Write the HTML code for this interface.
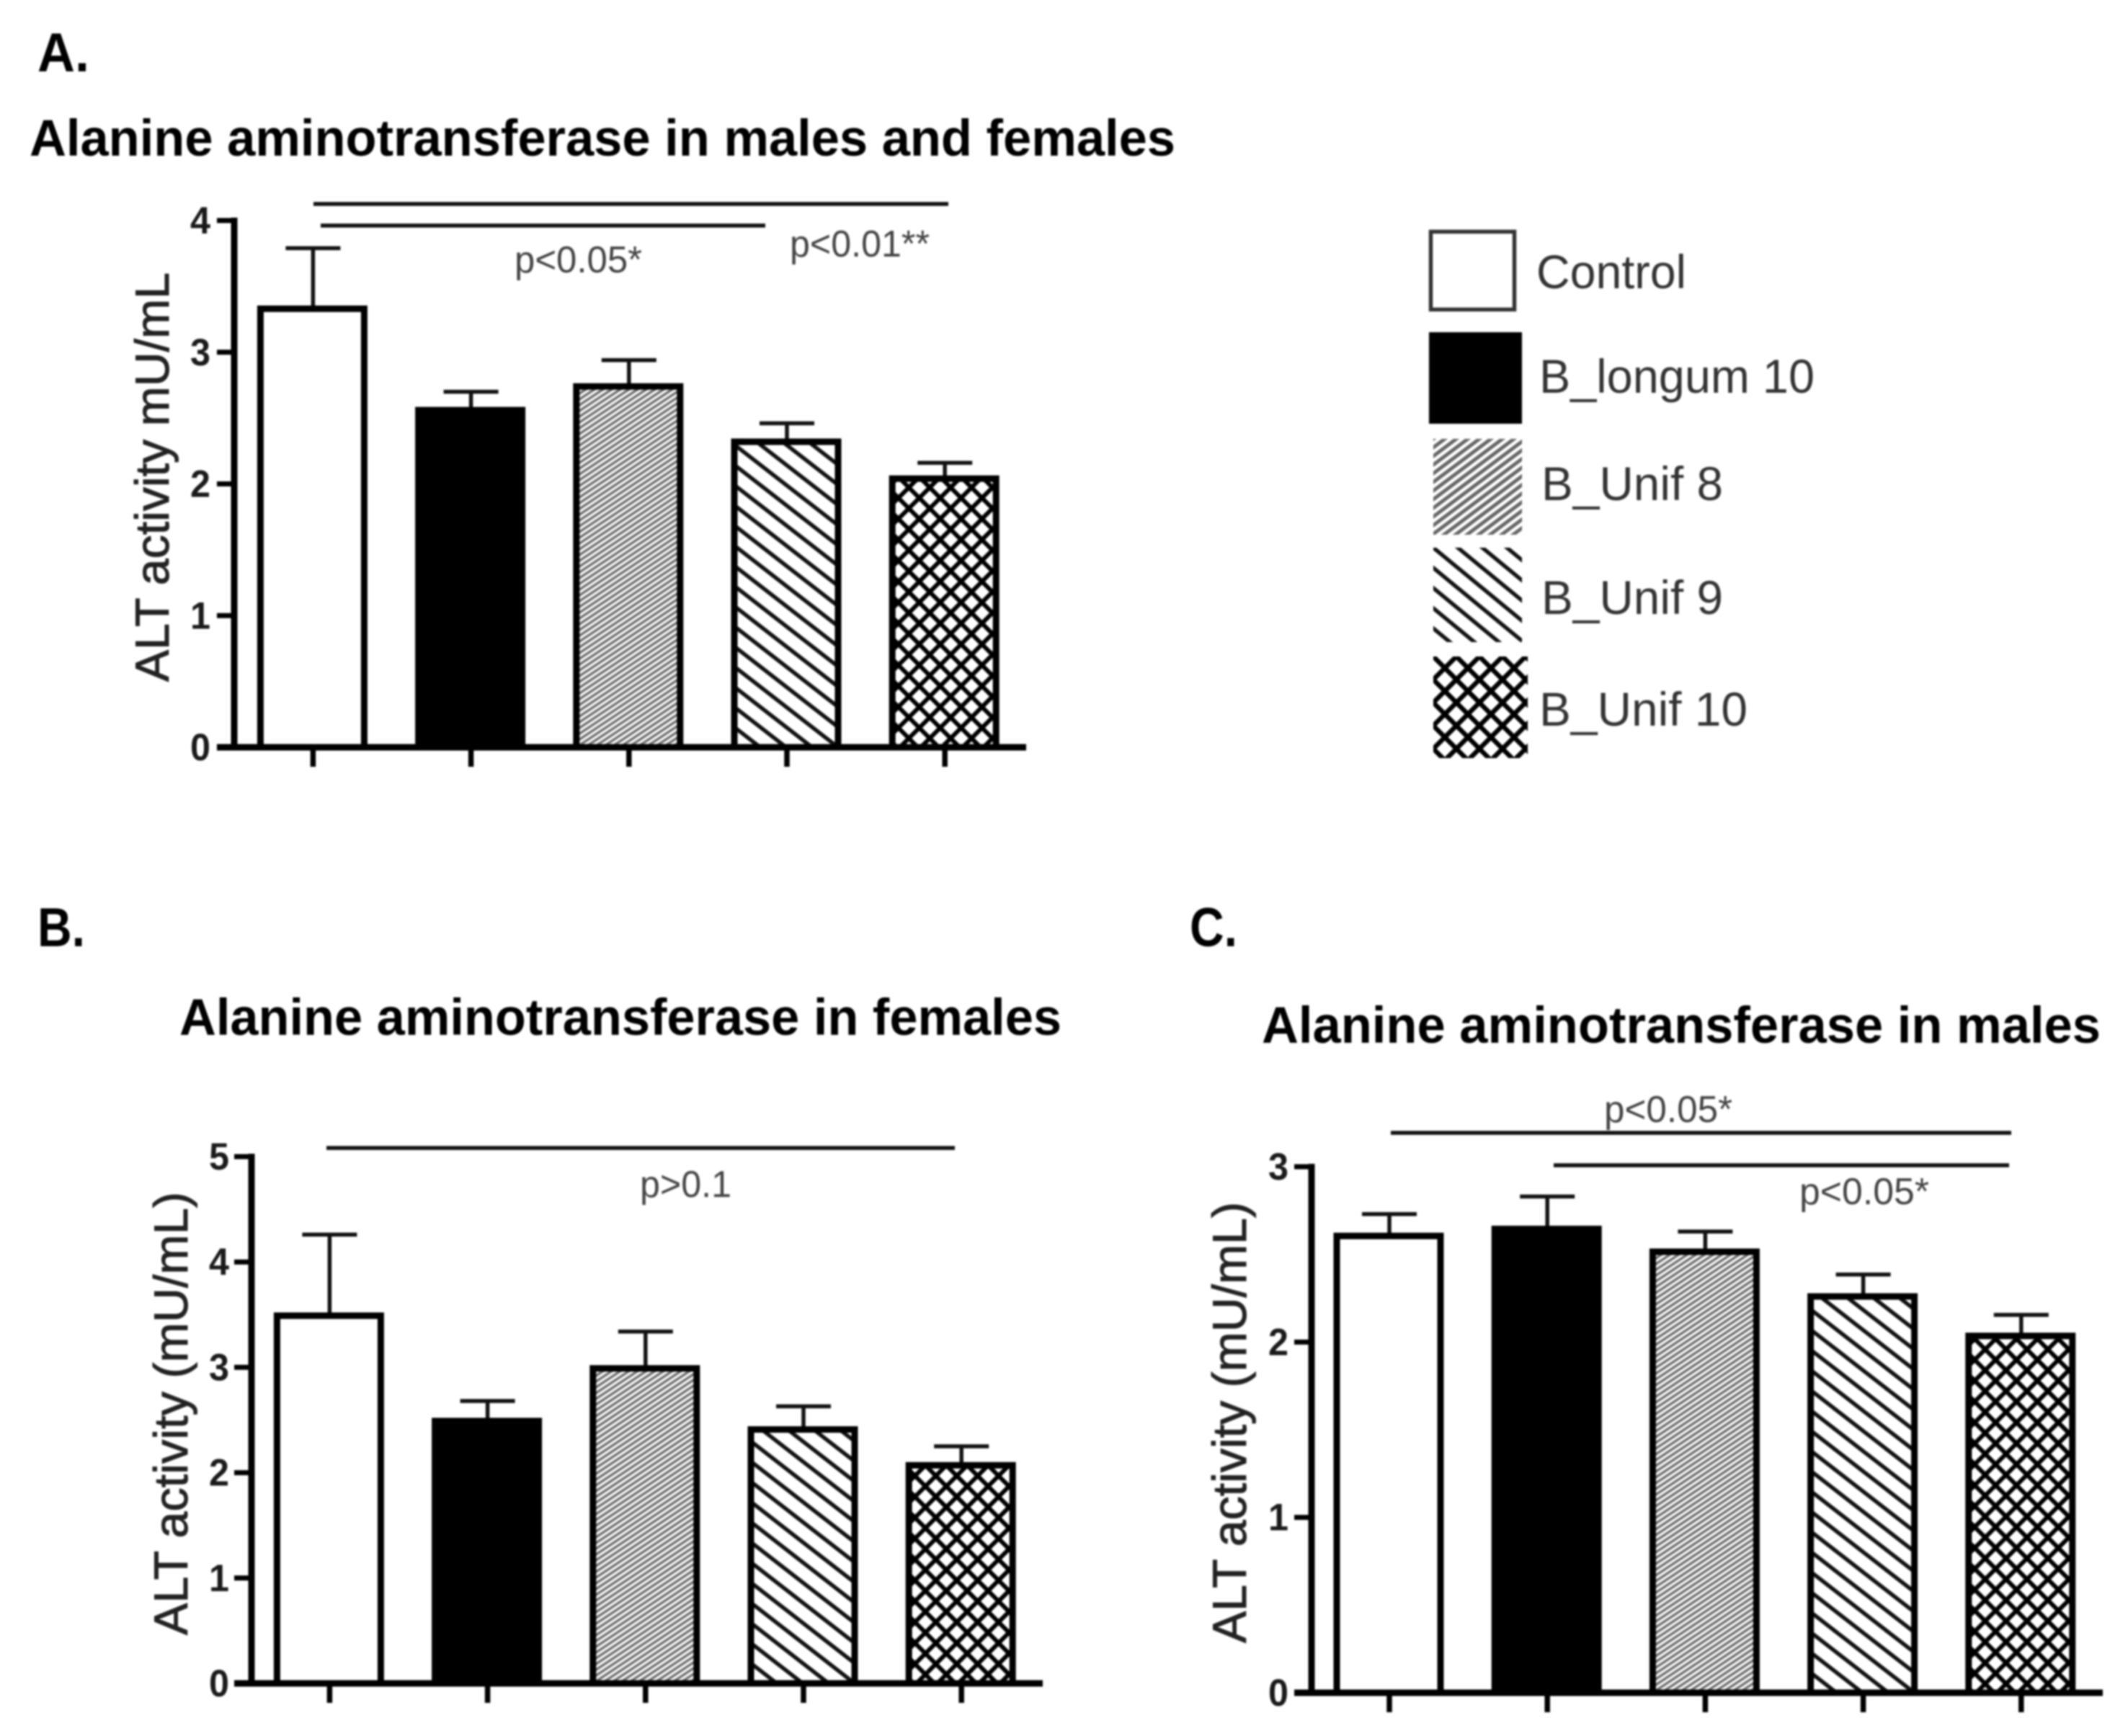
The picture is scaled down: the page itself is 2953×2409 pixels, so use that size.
<!DOCTYPE html>
<html lang="en">
<head>
<meta charset="utf-8">
<title>Alanine aminotransferase activity</title>
<style>
html,body{margin:0;padding:0;background:#fff;}
svg{display:block;width:2953px;height:2409px;filter:blur(1.2px);font-family:"Liberation Sans",Arial,sans-serif;}
.panel-letter{font-weight:bold;font-size:76px;fill:#000;}
.title{font-weight:bold;font-size:71px;fill:#000;}
.ytitle{font-size:66px;fill:#222;stroke:#222;stroke-width:1;}
.tick{font-weight:bold;font-size:53px;fill:#1a1a1a;text-anchor:end;}
.pval{font-size:52px;fill:#444;}
.leg{font-size:66px;fill:#333;}
.sig{stroke:#111;stroke-width:5.5;}
</style>
</head>
<body>
<svg id="figure" xmlns="http://www.w3.org/2000/svg" width="2953" height="2409" viewBox="0 0 2953 2409">
  <defs id="defs">
    <pattern id="leg-fine" patternUnits="userSpaceOnUse" x="1989" y="609" width="16" height="12">
      <path d="M-4 15L20 -3M-4 3L4 -3M12 15L20 9" stroke="#666" stroke-width="5" fill="none"/>
    </pattern>
    <pattern id="leg-wide" patternUnits="userSpaceOnUse" x="1989" y="760" width="34" height="28">
      <path d="M-17 -14L51 42M-17 14L17 42M17 -14L51 14" stroke="#111" stroke-width="5.5" fill="none"/>
    </pattern>
    <pattern id="leg-cross" patternUnits="userSpaceOnUse" x="1989" y="911" width="32" height="32">
      <path d="M0 0L32 32M0 32L32 0" stroke="#000" stroke-width="6.5" fill="none"/>
    </pattern>
  </defs>
  <rect width="2953" height="2409" fill="#fff"/>

  <text class="panel-letter" x="52" y="99" textLength="72" lengthAdjust="spacingAndGlyphs">A.</text>
  <text class="title" x="41" y="216" textLength="1590" lengthAdjust="spacingAndGlyphs">Alanine aminotransferase in males and females</text>
  <text class="ytitle" transform="translate(234 946) rotate(-90)" textLength="568" lengthAdjust="spacingAndGlyphs">ALT activity mU/mL</text>
  <line class="sig" x1="435" y1="283" x2="1316" y2="283"/>
  <line class="sig" x1="445" y1="313" x2="1062" y2="313"/>
  <text class="pval" x="714" y="378" textLength="177" lengthAdjust="spacingAndGlyphs">p&lt;0.05*</text>
  <text class="pval" x="1096" y="356" textLength="194" lengthAdjust="spacingAndGlyphs">p&lt;0.01**</text>

  <text class="panel-letter" x="52" y="1313" textLength="66" lengthAdjust="spacingAndGlyphs">B.</text>
  <text class="title" x="249" y="1436" textLength="1224" lengthAdjust="spacingAndGlyphs">Alanine aminotransferase in females</text>
  <text class="ytitle" transform="translate(260 2269) rotate(-90)" textLength="615" lengthAdjust="spacingAndGlyphs">ALT activity (mU/mL)</text>
  <line class="sig" x1="453" y1="1593" x2="1325" y2="1593"/>
  <text class="pval" x="888" y="1661" textLength="127" lengthAdjust="spacingAndGlyphs">p&gt;0.1</text>

  <text class="panel-letter" x="1651" y="1313" textLength="66" lengthAdjust="spacingAndGlyphs">C.</text>
  <text class="title" x="1751" y="1447" textLength="1164" lengthAdjust="spacingAndGlyphs">Alanine aminotransferase in males</text>
  <text class="ytitle" transform="translate(1729 2280) rotate(-90)" textLength="612" lengthAdjust="spacingAndGlyphs">ALT activity (mU/mL)</text>
  <line class="sig" x1="1930" y1="1572" x2="2791" y2="1572"/>
  <line class="sig" x1="2156" y1="1617" x2="2788" y2="1617"/>
  <text class="pval" x="2226" y="1557" textLength="178" lengthAdjust="spacingAndGlyphs">p&lt;0.05*</text>
  <text class="pval" x="2497" y="1671" textLength="180" lengthAdjust="spacingAndGlyphs">p&lt;0.05*</text>

  <g>
    <rect x="1985.5" y="321.5" width="116" height="108" fill="#fff" stroke="#333" stroke-width="5.5"/>
    <text class="leg" x="2132" y="400" textLength="208" lengthAdjust="spacingAndGlyphs">Control</text>
    <rect x="1983" y="461" width="129" height="127" fill="#000"/>
    <text class="leg" x="2136" y="545" textLength="382" lengthAdjust="spacingAndGlyphs">B_longum 10</text>
    <rect x="1989" y="609" width="123" height="133" fill="url(#leg-fine)"/>
    <text class="leg" x="2139" y="694" textLength="252" lengthAdjust="spacingAndGlyphs">B_Unif 8</text>
    <rect x="1989" y="760" width="123" height="131" fill="url(#leg-wide)"/>
    <text class="leg" x="2139" y="852" textLength="252" lengthAdjust="spacingAndGlyphs">B_Unif 9</text>
    <rect x="1989" y="911" width="131" height="141" fill="url(#leg-cross)"/>
    <text class="leg" x="2136" y="1007" textLength="289" lengthAdjust="spacingAndGlyphs">B_Unif 10</text>
  </g>
  <g id="plots"></g>
</svg>
<script>
const categories = ['Control', 'B_longum 10', 'B_Unif 8', 'B_Unif 9', 'B_Unif 10'];

const meansAll = [3.33, 2.56, 2.74, 2.32, 2.04];
const errorTopsAll = [3.79, 2.70, 2.94, 2.46, 2.16];
const ticksAll = [0, 1, 2, 3, 4];

const meansFemales = [3.49, 2.49, 2.99, 2.41, 2.07];
const errorTopsFemales = [4.26, 2.68, 3.34, 2.63, 2.25];
const ticksFemales = [0, 1, 2, 3, 4, 5];

const meansMales = [2.605, 2.645, 2.515, 2.26, 2.035];
const errorTopsMales = [2.73, 2.83, 2.63, 2.385, 2.155];
const ticksMales = [0, 1, 2, 3];

const SVG_NS = 'http://www.w3.org/2000/svg';
const plotsRoot = document.getElementById('plots');
const defsRoot = document.getElementById('defs');

function make(tag, attrs, parent) {
  const el = document.createElementNS(SVG_NS, tag);
  Object.keys(attrs).forEach(function (k) { el.setAttribute(k, attrs[k]); });
  parent.appendChild(el);
  return el;
}

function addPattern(id, x, y, w, h, d, stroke, width) {
  const p = make('pattern', { id: id, patternUnits: 'userSpaceOnUse', x: x, y: y, width: w, height: h }, defsRoot);
  make('path', { d: d, stroke: stroke, 'stroke-width': width, fill: 'none' }, p);
}

function fillFor(panel, i, left, baseY) {
  if (i === 0) return '#fff';
  if (i === 1) return '#000';
  const id = 'fill-' + panel.key + '-' + i;
  if (i === 2) addPattern(id, left, baseY, 12, 8, 'M-3 10L15 -2M-3 2L3 -2M9 10L15 6', '#707070', 3.6);
  if (i === 3) addPattern(id, left, baseY, 36, 28, 'M-18 -14L54 42M-18 14L18 42M18 -14L54 14', '#111', 5.5);
  if (i === 4) addPattern(id, left + 8.5, baseY + 2, 29, 29, 'M0 0L29 29M0 29L29 0', '#000', 6);
  return 'url(#' + id + ')';
}

function drawPanel(panel) {
  const lo = panel.ticks[0];
  const hi = panel.ticks[panel.ticks.length - 1];
  const yScale = function (v) { return panel.baseY - (v - lo) / (hi - lo) * (panel.baseY - panel.topY); };
  const xScale = function (i) { return panel.firstX + i * panel.stepX; };
  const halfBar = 72;
  const capHalf = 38;
  const barShift = -1;

  const g = make('g', {}, plotsRoot);
  
  

  panel.means.forEach(function (v, i) {
    const cx = xScale(i);
    const topErr = yScale(panel.tops[i]);
    const top = yScale(v);

    const stem = make('line', { x1: cx, x2: cx, y1: top, y2: topErr, stroke: '#111', 'stroke-width': 5.5 }, g);
    
    

    const cap = make('line', { x1: cx - capHalf, x2: cx + capHalf, y1: topErr, y2: topErr, stroke: '#111', 'stroke-width': 5.5 }, g);
    
    

    const bar = make('rect', {
      x: cx + barShift - halfBar, y: top, width: halfBar * 2, height: panel.baseY - top,
      fill: fillFor(panel, i, cx + barShift - halfBar, panel.baseY), stroke: '#000', 'stroke-width': 9
    }, g);
    
    

    const xTick = make('line', { x1: cx, x2: cx, y1: panel.baseY, y2: panel.baseY + 27, stroke: '#000', 'stroke-width': 7.5 }, g);
    
    
  });

  const yAxis = make('line', { x1: panel.spineX, x2: panel.spineX, y1: panel.topY - 4, y2: panel.baseY + 4, stroke: '#000', 'stroke-width': 9 }, g);
  
  

  const xAxis = make('line', { x1: panel.spineX - 24, x2: panel.rightX, y1: panel.baseY, y2: panel.baseY, stroke: '#000', 'stroke-width': 9 }, g);
  
  

  panel.ticks.forEach(function (t) {
    const y = yScale(t);
    const mark = make('line', { x1: panel.spineX - 24, x2: panel.spineX, y1: y, y2: y, stroke: '#000', 'stroke-width': 7 }, g);
    
    

    const label = make('text', { x: panel.labelX, y: y + 18, class: 'tick', textLength: 28, lengthAdjust: 'spacingAndGlyphs' }, g);
    label.textContent = String(t);
    
    
  });
}

drawPanel({ key: 'a', means: meansAll, tops: errorTopsAll, ticks: ticksAll, spineX: 325, firstX: 434.4, stepX: 219.2, baseY: 1037, topY: 306, rightX: 1424, labelX: 292 });
drawPanel({ key: 'b', means: meansFemales, tops: errorTopsFemales, ticks: ticksFemales, spineX: 349, firstX: 457.4, stepX: 219.2, baseY: 2336, topY: 1605, rightX: 1447, labelX: 318 });
drawPanel({ key: 'c', means: meansMales, tops: errorTopsMales, ticks: ticksMales, spineX: 1820, firstX: 1928, stepX: 219.2, baseY: 2349, topY: 1619, rightX: 2918, labelX: 1788 });
</script>
</body>
</html>
